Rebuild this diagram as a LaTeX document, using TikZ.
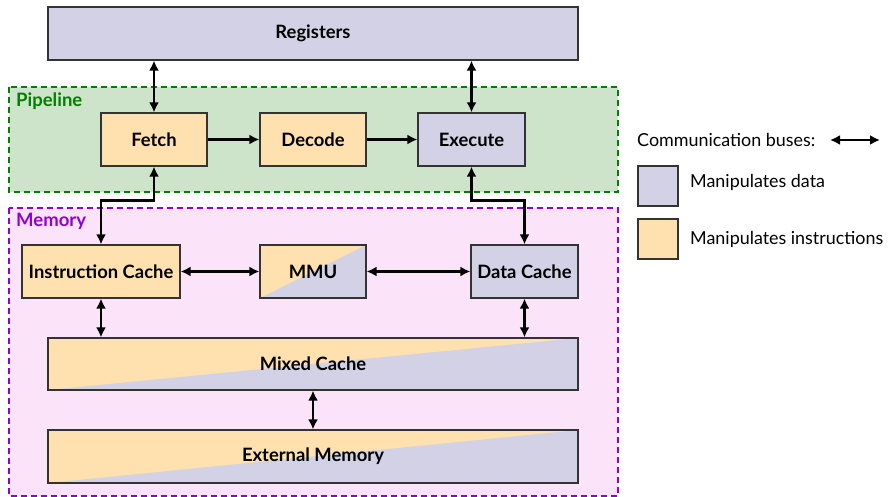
\documentclass[tikz,border=0pt]{standalone}
\usepackage{fontspec}
\setmainfont{Lato}
\usetikzlibrary{arrows.meta,calc}
\definecolor{lav}{HTML}{D3D1E5}
\definecolor{ora}{HTML}{FEE1AE}
\definecolor{pgreen}{HTML}{CDE4CB}
\definecolor{dgreen}{HTML}{008000}
\definecolor{ppink}{HTML}{FBE4FA}
\definecolor{dpurple}{HTML}{9400D3}
\definecolor{edge}{HTML}{333333}
\tikzset{
  blk/.style={draw=edge, line width=1.2pt, inner sep=0pt, minimum height=53pt,
    font=\bfseries\fontsize{18.4}{20}\selectfont, text=black},
  datab/.style={blk, fill=lav},
  instb/.style={blk, fill=ora},
  splitb/.style={blk, fill=ora, path picture={
    \fill[lav] (path picture bounding box.south west) -- (path picture bounding box.south east)
      -- (path picture bounding box.north east) -- cycle;}},
  grp/.style={line width=2.2pt, dash pattern=on 6pt off 4pt},
  bus/.style={line width=2.3pt, {Latex[length=10pt,width=10pt]}-{Latex[length=10pt,width=10pt]}},
  onew/.style={line width=2.3pt, -{Latex[length=10pt,width=10pt]}},
  grplabel/.style={anchor=west, inner sep=0pt, font=\bfseries\fontsize{18.5}{20}\selectfont},
  legtext/.style={anchor=west, inner sep=0pt, font=\fontsize{17.9}{20}\selectfont},
  legsq/.style={draw=edge, line width=1.2pt, minimum width=40pt, minimum height=40pt, inner sep=0pt}
}
\begin{document}
\begin{tikzpicture}[x=1pt,y=-1pt]
\useasboundingbox (0,0) rectangle (895,497);
% groups
\draw[grp, draw=dgreen, fill=pgreen] (9,87) rectangle (618,192);
\node[grplabel, text=dgreen] (plabel) at (16,101) {Pipeline};
\draw[grp, draw=dpurple, fill=ppink] (9,208) rectangle (618,496);
\node[grplabel, text=dpurple] (mlabel) at (16,221) {Memory};
% blocks
\node[datab, minimum width=530pt] (regs) at (313,33.5) {Registers};
\node[instb, minimum width=106pt] (fetch) at (154,139.5) {Fetch};
\node[instb, minimum width=106pt] (decode) at (313,139.5) {Decode};
\node[datab, minimum width=107pt] (exec) at (471.5,139.5) {Execute};
\node[instb, minimum width=158pt] (icache) at (101,271.5) {Instruction Cache};
\node[splitb, minimum width=106pt] (mmu) at (313,271.5) {MMU};
\node[datab, minimum width=107pt] (dcache) at (524.5,271.5) {Data Cache};
\node[splitb, minimum width=530pt, minimum height=52pt] (mixed) at (313,364) {Mixed Cache};
\node[splitb, minimum width=530pt] (ext) at (313,456.5) {External Memory};
% connectors
\draw[bus] (fetch.north |- regs.south) -- (fetch.north);
\draw[bus] (exec.north |- regs.south) -- (exec.north);
\draw[onew] (fetch.east) -- (decode.west);
\draw[onew] (decode.east) -- (exec.west);
\draw[bus] (fetch.south) -- ++(0,34) -| (icache.north);
\draw[bus] (exec.south) -- ++(0,34) -| (dcache.north);
\draw[bus] (icache.east) -- (mmu.west);
\draw[bus] (mmu.east) -- (dcache.west);
\draw[bus] (icache.south) -- (icache.south |- mixed.north);
\draw[bus] (dcache.south) -- (dcache.south |- mixed.north);
\draw[bus] (mixed.south) -- (ext.north);
% legend
\node[legtext] (lbus) at (637,140) {Communication buses:};
\coordinate (la) at (830,140);
\coordinate (lb) at (880,140);
\draw[bus] (la) -- (lb);
\node[legsq, fill=lav] (sqd) at (658,186) {};
\node[legtext] (ld) at (690,182) {Manipulates data};
\node[legsq, fill=ora] (sqi) at (658,239) {};
\node[legtext] (li) at (690,239) {Manipulates instructions};
\end{tikzpicture}
\end{document}
